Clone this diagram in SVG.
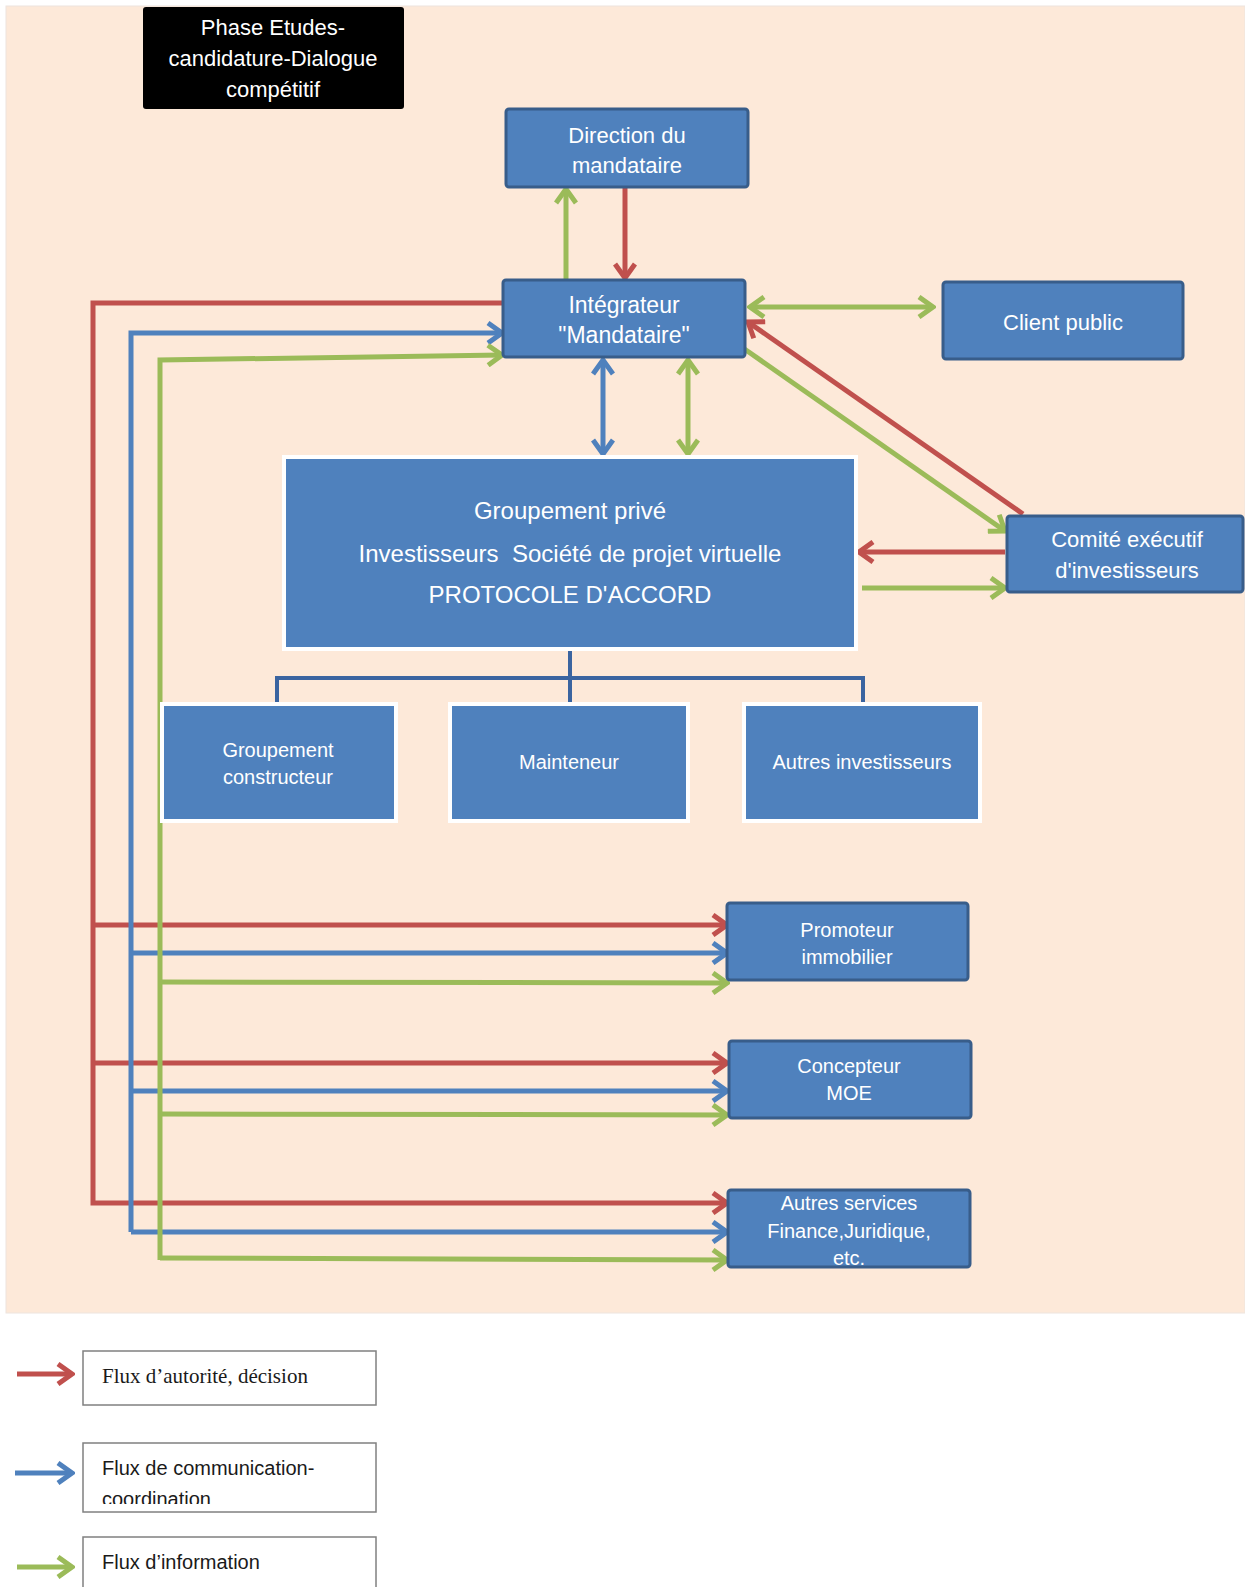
<svg xmlns="http://www.w3.org/2000/svg" width="1245" height="1587" viewBox="0 0 1245 1587">
<style>
.box{fill:#4F81BD;stroke:#385D8A;stroke-width:3}
.wbox{fill:#4F81BD;stroke:#FFFFFF;stroke-width:4}
.t{font-family:"Liberation Sans",Arial,sans-serif;fill:#FFFFFF;text-anchor:middle;dominant-baseline:central}
.r{stroke:#C0504D;stroke-width:5;fill:none}
.b{stroke:#4F81BD;stroke-width:5;fill:none}
.g{stroke:#9BBB59;stroke-width:5;fill:none}
.tree{stroke:#3A64A0;stroke-width:4;fill:none}
.lg{fill:#FFFFFF;stroke:#808080;stroke-width:1.5}
.lt{font-family:"Liberation Sans",Arial,sans-serif;fill:#1a1a1a;font-size:20px;dominant-baseline:central}
</style>
<defs>
<marker id="ar" viewBox="0 0 22 24" markerWidth="22" markerHeight="24" refX="19" refY="12" orient="auto-start-reverse" markerUnits="userSpaceOnUse"><path d="M5,2 L19,12 L5,22" fill="none" stroke="#C0504D" stroke-width="5"/></marker>
<marker id="ab" viewBox="0 0 22 24" markerWidth="22" markerHeight="24" refX="19" refY="12" orient="auto-start-reverse" markerUnits="userSpaceOnUse"><path d="M5,2 L19,12 L5,22" fill="none" stroke="#4F81BD" stroke-width="5"/></marker>
<marker id="ag" viewBox="0 0 22 24" markerWidth="22" markerHeight="24" refX="19" refY="12" orient="auto-start-reverse" markerUnits="userSpaceOnUse"><path d="M5,2 L19,12 L5,22" fill="none" stroke="#9BBB59" stroke-width="5"/></marker>
<clipPath id="clip2"><rect x="83" y="1443" width="293" height="61"/></clipPath>
</defs>
<rect x="0" y="0" width="1245" height="1587" fill="#FFFFFF"/>
<rect x="6" y="6" width="1239" height="1307" fill="#FDE9D9" stroke="#EDE4DE" stroke-width="1"/>

<g id="connectors">
<line class="g" x1="566" y1="280" x2="566" y2="189" marker-end="url(#ag)"/>
<line class="r" x1="625" y1="187" x2="625" y2="278" marker-end="url(#ar)"/>
<line class="g" x1="750" y1="307" x2="933" y2="307" marker-start="url(#ag)" marker-end="url(#ag)"/>
<line class="r" x1="1023" y1="514" x2="748" y2="322" marker-end="url(#ar)"/>
<line class="g" x1="743" y1="348" x2="1005" y2="531" marker-end="url(#ag)"/>
<line class="r" x1="1005" y1="552" x2="859" y2="552" marker-end="url(#ar)"/>
<line class="g" x1="862" y1="588" x2="1005" y2="588" marker-end="url(#ag)"/>
<line class="b" x1="603" y1="360" x2="603" y2="454" marker-start="url(#ab)" marker-end="url(#ab)"/>
<line class="g" x1="688" y1="360" x2="688" y2="454" marker-start="url(#ag)" marker-end="url(#ag)"/>
<path class="tree" d="M570,651 V678 M277,702 V678 H863 V702 M570,678 V702"/>
<path class="r" d="M503,303 H93 V1203 H727" marker-end="url(#ar)"/>
<line class="r" x1="93" y1="925" x2="727" y2="925" marker-end="url(#ar)"/>
<line class="r" x1="93" y1="1063" x2="727" y2="1063" marker-end="url(#ar)"/>
<path class="b" d="M131,1232 V333 H502" marker-end="url(#ab)"/>
<line class="b" x1="131" y1="953" x2="727" y2="953" marker-end="url(#ab)"/>
<line class="b" x1="131" y1="1091" x2="727" y2="1091" marker-end="url(#ab)"/>
<line class="b" x1="131" y1="1232" x2="727" y2="1232" marker-end="url(#ab)"/>
<path class="g" d="M160,1260 V360 L502,355" marker-end="url(#ag)"/>
<line class="g" x1="160" y1="982" x2="727" y2="983" marker-end="url(#ag)"/>
<line class="g" x1="160" y1="1114" x2="727" y2="1115" marker-end="url(#ag)"/>
<line class="g" x1="160" y1="1258" x2="727" y2="1260" marker-end="url(#ag)"/>
</g>

<g id="title">
<rect x="143" y="7" width="261" height="102" rx="3" fill="#000000"/>
<text class="t" x="273" y="27" font-size="22">Phase Etudes-</text>
<text class="t" x="273" y="58" font-size="22">candidature-Dialogue</text>
<text class="t" x="273" y="89" font-size="22">compétitif</text>
</g>

<g id="direction">
<rect class="box" x="506" y="109" width="242" height="78" rx="3"/>
<text class="t" x="627" y="135" font-size="22">Direction du</text>
<text class="t" x="627" y="165" font-size="22">mandataire</text>
</g>

<g id="integrateur">
<rect class="box" x="503" y="280" width="242" height="77" rx="3"/>
<text class="t" x="624" y="305" font-size="23">Intégrateur</text>
<text class="t" x="624" y="335" font-size="23">"Mandataire"</text>
</g>

<g id="client">
<rect class="box" x="943" y="282" width="240" height="77" rx="3"/>
<text class="t" x="1063" y="322" font-size="22">Client public</text>
</g>

<g id="comite">
<rect class="box" x="1007" y="516" width="236" height="76" rx="3"/>
<text class="t" x="1127" y="539" font-size="22">Comité exécutif</text>
<text class="t" x="1127" y="570" font-size="22">d'investisseurs</text>
</g>

<g id="groupement">
<rect class="wbox" x="284" y="457" width="572" height="192"/>
<text class="t" x="570" y="510" font-size="24">Groupement privé</text>
<text class="t" x="570" y="553" font-size="24" xml:space="preserve">Investisseurs  Société de projet virtuelle</text>
<text class="t" x="570" y="594" font-size="24">PROTOCOLE D'ACCORD</text>
</g>

<g id="constructeur">
<rect class="wbox" x="162" y="704" width="234" height="117"/>
<text class="t" x="278" y="750" font-size="20">Groupement</text>
<text class="t" x="278" y="777" font-size="20">constructeur</text>
</g>

<g id="mainteneur">
<rect class="wbox" x="450" y="704" width="238" height="117"/>
<text class="t" x="569" y="762" font-size="20">Mainteneur</text>
</g>

<g id="autres-investisseurs">
<rect class="wbox" x="744" y="704" width="236" height="117"/>
<text class="t" x="862" y="762" font-size="20">Autres investisseurs</text>
</g>

<g id="promoteur">
<rect class="box" x="727" y="903" width="241" height="77" rx="3"/>
<text class="t" x="847" y="930" font-size="20">Promoteur</text>
<text class="t" x="847" y="957" font-size="20">immobilier</text>
</g>

<g id="concepteur">
<rect class="box" x="729" y="1041" width="242" height="77" rx="3"/>
<text class="t" x="849" y="1066" font-size="20">Concepteur</text>
<text class="t" x="849" y="1093" font-size="20">MOE</text>
</g>

<g id="autres-services">
<rect class="box" x="728" y="1190" width="242" height="77" rx="3"/>
<text class="t" x="849" y="1203" font-size="20">Autres services</text>
<text class="t" x="849" y="1231" font-size="20">Finance,Juridique,</text>
<text class="t" x="849" y="1258" font-size="20">etc.</text>
</g>

<g id="legend">
<line class="r" x1="17" y1="1374" x2="72" y2="1374" marker-end="url(#ar)"/>
<rect class="lg" x="83" y="1351" width="293" height="54"/>
<text class="lt" x="102" y="1376" style="font-family:'Liberation Serif','Times New Roman',serif;font-size:21px">Flux d’autorité, décision</text>
<line class="b" x1="15" y1="1473" x2="72" y2="1473" marker-end="url(#ab)"/>
<rect class="lg" x="83" y="1443" width="293" height="69"/>
<text class="lt" x="102" y="1468">Flux de communication-</text>
<text class="lt" x="102" y="1499" clip-path="url(#clip2)">coordination</text>
<line class="g" x1="17" y1="1567" x2="72" y2="1567" marker-end="url(#ag)"/>
<rect class="lg" x="83" y="1537" width="293" height="60"/>
<text class="lt" x="102" y="1562">Flux d’information</text>
</g>
</svg>
